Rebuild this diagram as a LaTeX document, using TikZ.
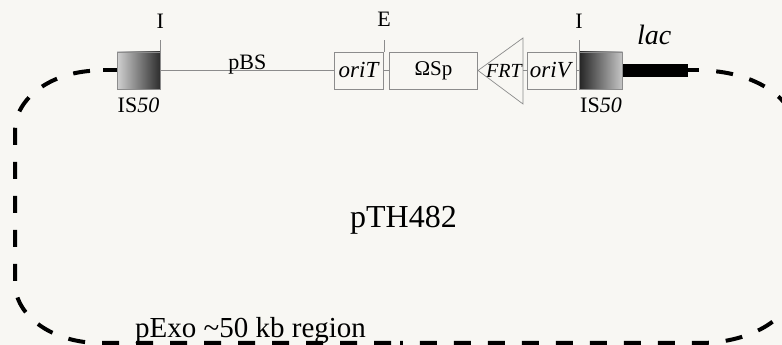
\documentclass[tikz,border=0pt]{standalone}
\usepackage{fontspec}
\setmainfont{Liberation Serif}
\usetikzlibrary{positioning}

\definecolor{paper}{RGB}{248,247,243}
\definecolor{frame}{RGB}{140,140,140}

\begin{document}
\begin{tikzpicture}[x=1pt, y=1pt,
    element/.style={draw=frame, line width=0.7pt, minimum height=37pt, inner sep=0pt,
        font=\fontsize{23}{26}\selectfont},
    isbox/.style={element, minimum width=43pt},
    wire/.style={draw=frame, line width=0.7pt},
    lbl/.style={inner sep=0pt, font=\fontsize{22}{25}\selectfont},
    loopline/.style={line width=4pt, dash pattern=on 17pt off 17pt}]
    \useasboundingbox[fill=paper] (0,0) rectangle (782,345);
    \clip (0,0) rectangle (782,345);

    \node[isbox, left color=black!18, right color=black!82] (isL) at (138.5,274.5) {};
    \node[element, minimum width=49pt, right=174pt of isL] (oriT) {\textit{oriT}};
    \node[element, minimum width=88pt, right=5pt of oriT, font=\fontsize{21}{24}\selectfont] (sp) {ΩSp};
    \coordinate (frtTip) at (478,274.5);
    \coordinate (frtTop) at (523,307);
    \coordinate (frtBot) at (523,241);
    \coordinate (frtBack) at (523,274.5);
    \node[lbl, font=\fontsize{20}{23}\itshape] (frt) at (504,274.5) {FRT};
    \node[element, minimum width=49pt] (oriV) at (551.5,274.5) {\textit{oriV}};
    \node[isbox, left color=black!85, right color=black!22] (isR) at (601,274.5) {};
    \node[fill=black, minimum width=65pt, minimum height=13pt, inner sep=0pt,
        right=0pt of isR] (lacbar) {};
    \coordinate[right=11pt of lacbar] (lacEnd);
    \coordinate (loopL) at (103,274.5);
    \coordinate (loopB) at (400,2);

    % construct
    \draw[wire] (isL) -- node[lbl, anchor=base, yshift=1pt] (pbs) {pBS} (oriT);
    \draw[wire] (oriT) -- (sp);
    \draw[wire] (sp) -- (frtTip);
    \draw[wire] (frtTop) -- (frtTip) -- (frtBot) -- cycle;
    \draw[wire] (frtBack) -- (oriV);
    \draw[wire] (oriV) -- (isR);
    \draw[line width=4pt] (loopL) -- (isL);
    \draw[line width=4pt] (lacbar) -- (lacEnd);

    % sites and labels
    \draw[wire] (isL.north east) -- ++(0,12) node[lbl, above=11pt] (siteI1) {I};
    \draw[wire] (oriT.north east) -- ++(0,12) node[lbl, above=13pt] (siteE) {E};
    \draw[wire] (isR.north west) -- ++(0,12) node[lbl, above=11pt] (siteI2) {I};
    \node[lbl, below=8pt of isL] (isLlabel) {IS\textit{50}};
    \node[lbl, below=8pt of isR] (isRlabel) {IS\textit{50}};
    \node[lbl, anchor=base west, font=\fontsize{28}{32}\itshape] (lac) at (637,300) {lac};

    % pExo loop, left and right halves
    \draw[loopline, dash phase=21pt] (loopL) -- (100,274.5)
        arc[start angle=90, end angle=180, x radius=85, y radius=60] -- (15,62)
        arc[start angle=180, end angle=270, x radius=85, y radius=60] -- (loopB);
    \draw[loopline, dash phase=17pt] (lacEnd) -- (700,274.5)
        arc[start angle=90, end angle=0, x radius=95, y radius=60] -- (795,62)
        arc[start angle=0, end angle=-90, x radius=95, y radius=60] -- (loopB);

    \node[lbl, anchor=base, font=\fontsize{32}{36}\selectfont] (pth) at (403.5,117) {pTH482};
    \node[lbl, anchor=base west, font=\fontsize{29}{33}\selectfont] (pexo) at (135,7) {pExo \textasciitilde50 kb region};
\end{tikzpicture}
\end{document}
